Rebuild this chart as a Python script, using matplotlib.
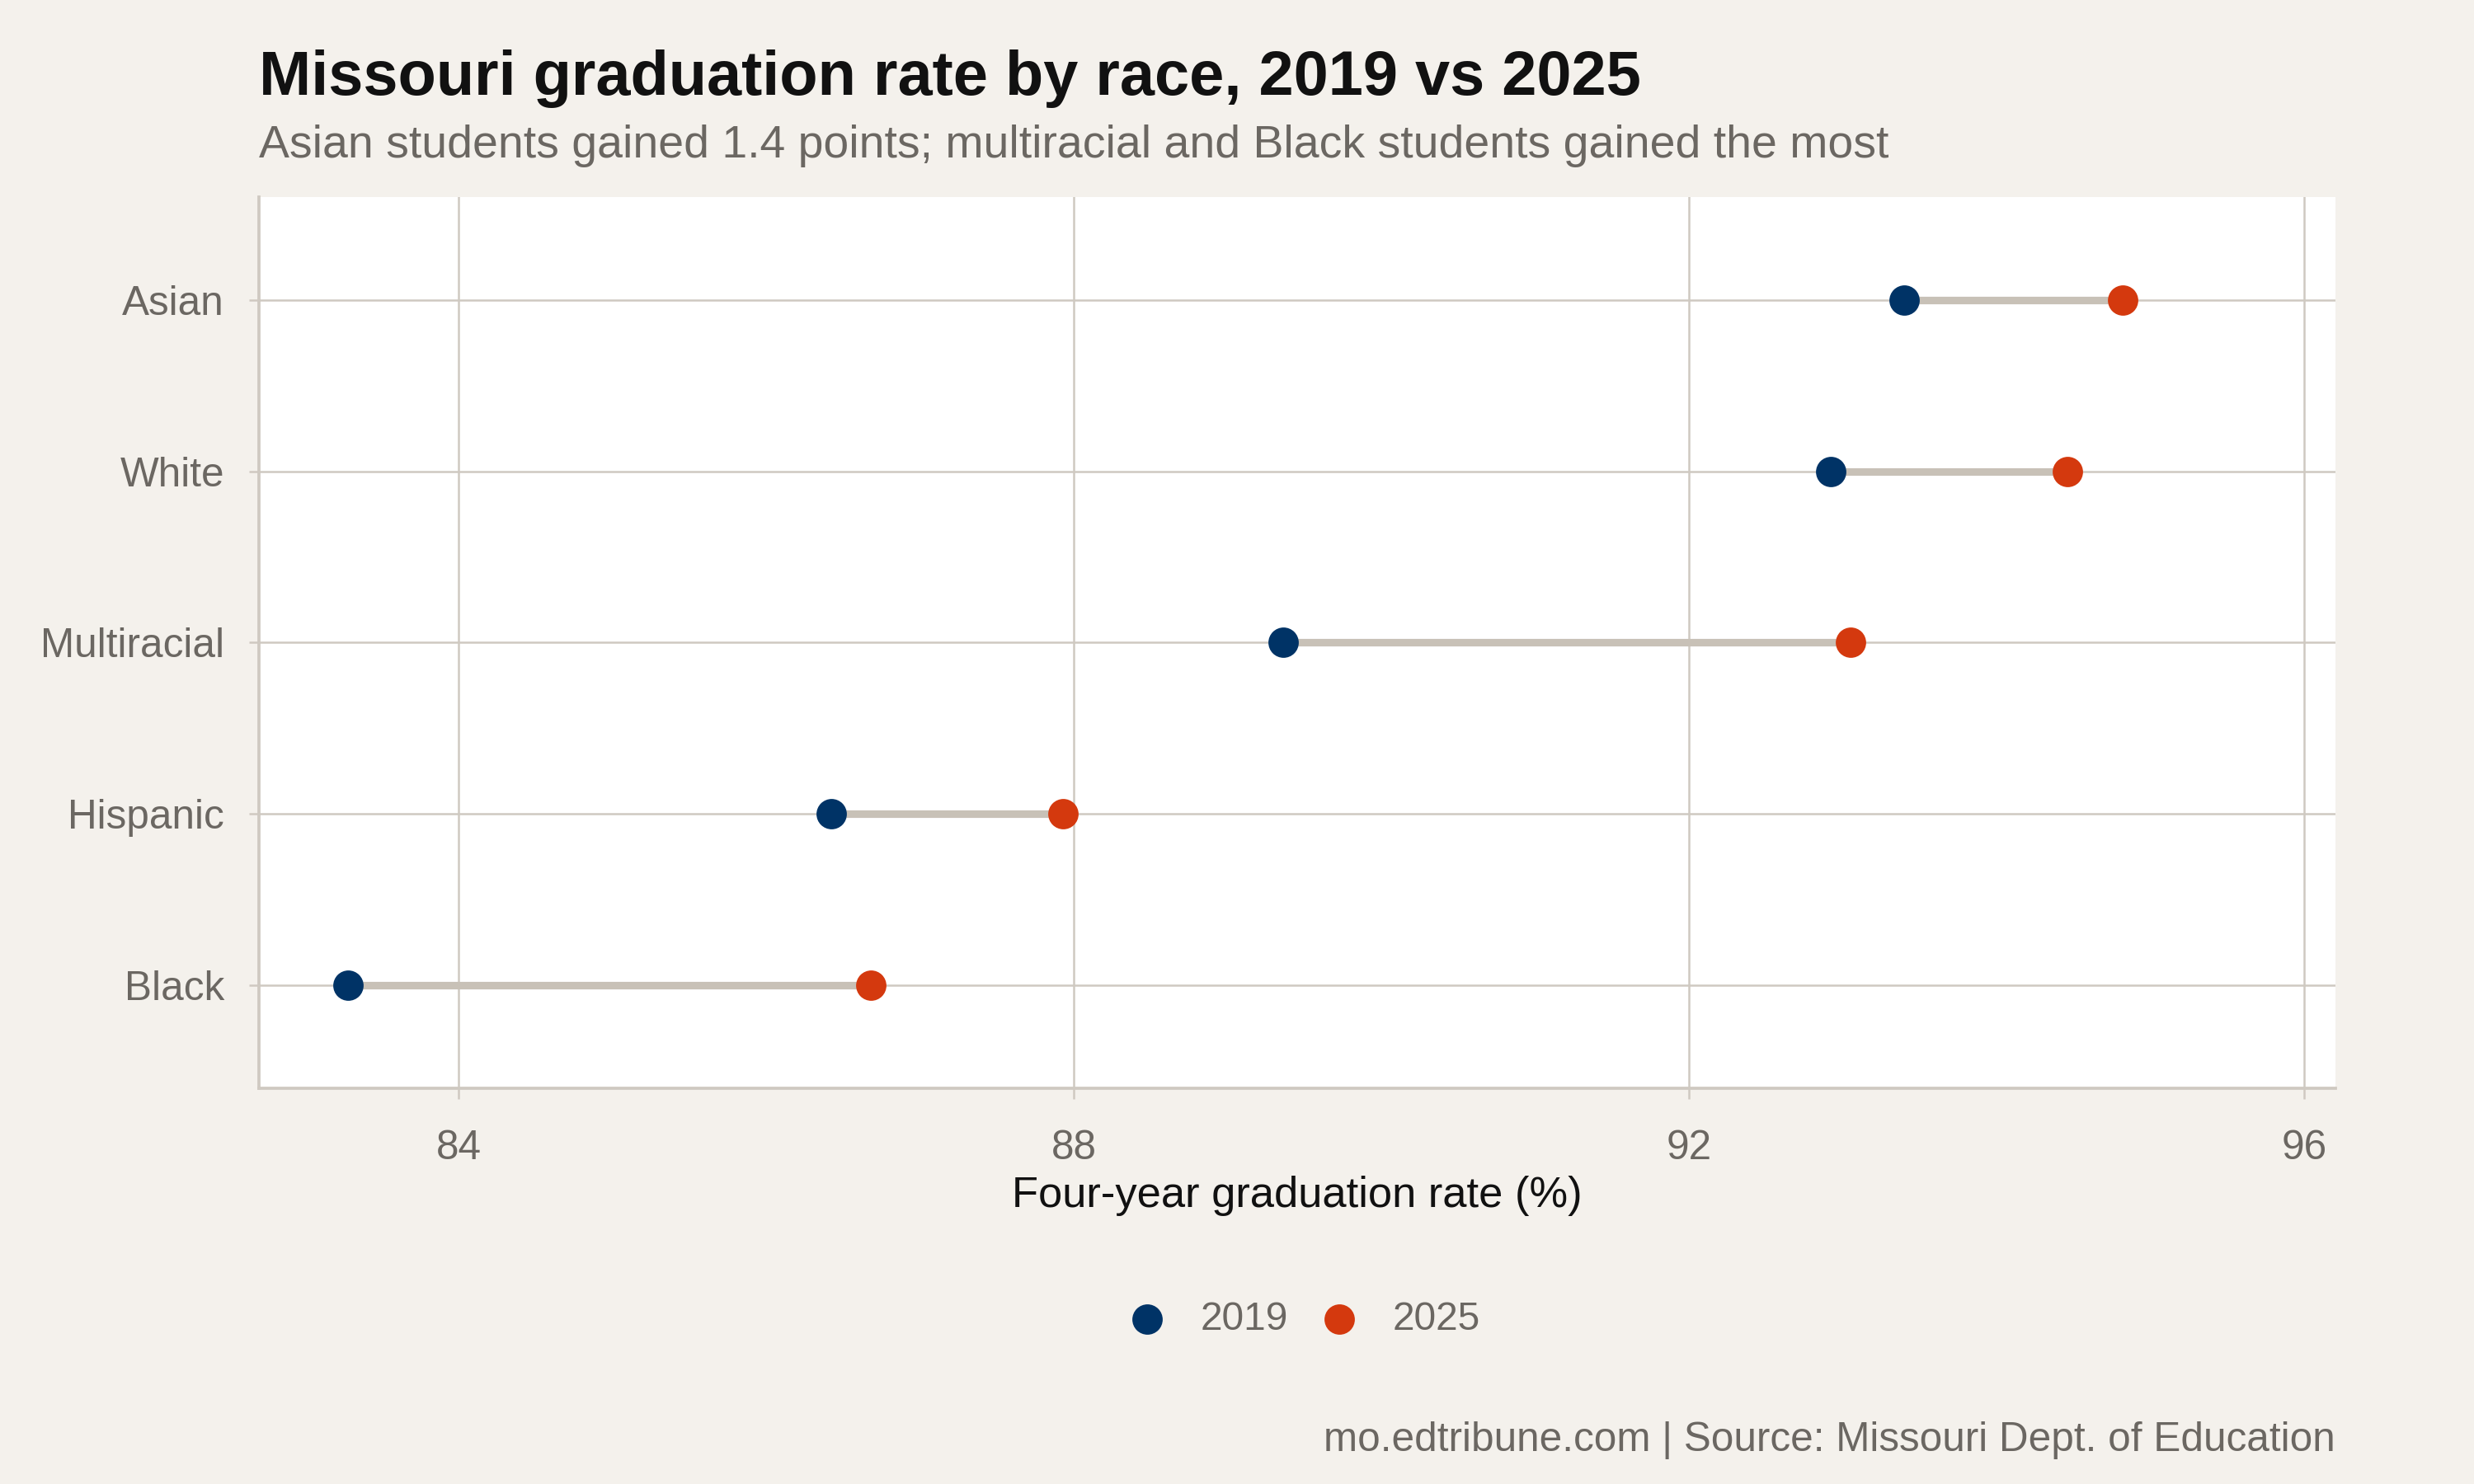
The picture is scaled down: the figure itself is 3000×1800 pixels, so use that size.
import matplotlib
matplotlib.use("Agg")
import matplotlib.pyplot as plt
import numpy as np

# Data
groups = ["Black", "Hispanic", "Multiracial", "White", "Asian"]
rate_2019 = [83.28, 86.42, 89.36, 92.92, 93.40]
rate_2025 = [86.68, 87.93, 93.05, 94.46, 94.82]
x_ticks = [84, 88, 92, 96]

BG = "#F4F1EC"
GRID = "#CFC9C1"
SEG = "#C8C1B7"
NAVY = "#003366"
ORANGE = "#D4390E"
GREY_TXT = "#6B6762"

plt.rcParams["font.family"] = ["Liberation Sans", "DejaVu Sans"]

fig = plt.figure(figsize=(10, 6), dpi=300, facecolor=BG)
ax = fig.add_axes([0.1046, 0.2667, 0.8393, 0.6005])
ax.set_facecolor("white")

y = np.arange(1, len(groups) + 1)

# connecting segments
ax.hlines(y, rate_2019, rate_2025, color=SEG, linewidth=2.2, zorder=2)
ax.scatter(rate_2019, y, s=78, color=NAVY, zorder=3, label="2019", linewidths=0)
ax.scatter(rate_2025, y, s=78, color=ORANGE, zorder=3, label="2025", linewidths=0)

ax.set_xlim(82.7, 96.2)
ax.set_ylim(0.4, 5.6)
ax.set_xticks(x_ticks)
ax.set_yticks(y)
ax.set_yticklabels(groups)

ax.grid(True, color=GRID, linewidth=0.6, zorder=1)
ax.set_axisbelow(True)

for side in ["top", "right"]:
    ax.spines[side].set_visible(False)
for side in ["left", "bottom"]:
    ax.spines[side].set_color(GRID)
    ax.spines[side].set_linewidth(0.9)

ax.tick_params(axis="both", colors=GRID, length=3, width=0.6,
               labelcolor=GREY_TXT, labelsize=11.9)
ax.tick_params(axis="x", pad=9)
ax.tick_params(axis="y", pad=7)

ax.set_xlabel("Four-year graduation rate (%)", fontsize=12.6, color="#111111", labelpad=2.5)

fig.text(0.1046, 0.936, "Missouri graduation rate by race, 2019 vs 2025",
         fontsize=18.2, fontweight="bold", color="#111111", ha="left", va="baseline")
fig.text(0.1046, 0.894, "Asian students gained 1.4 points; multiracial and Black students gained the most",
         fontsize=13.3, color=GREY_TXT, ha="left", va="baseline")
fig.text(0.9439, 0.022, "mo.edtribune.com | Source: Missouri Dept. of Education",
         fontsize=11.9, color=GREY_TXT, ha="right", va="baseline")

leg = fig.legend(loc="center", bbox_to_anchor=(0.527, 0.111), ncol=2, frameon=False,
                 fontsize=11.5, handlelength=1.0, handletextpad=0.85,
                 columnspacing=0.8, markerscale=1.0)
for t in leg.get_texts():
    t.set_color(GREY_TXT)

fig.savefig("out.png", dpi=300, facecolor=BG)
